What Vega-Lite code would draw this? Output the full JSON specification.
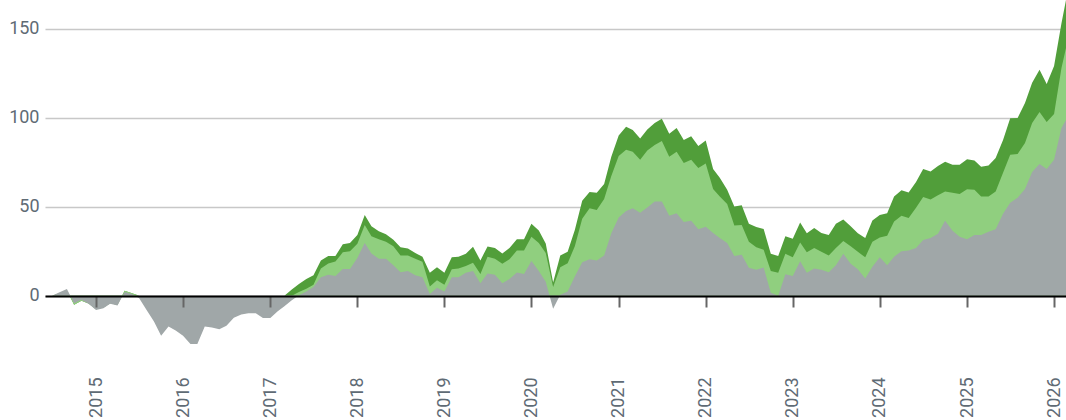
{
  "$schema": "https://vega.github.io/schema/vega-lite/v6.json",
  "autosize": "none",
  "width": 1021,
  "height": 360,
  "padding": {"left": 45, "top": 0, "right": 0, "bottom": 60},
  "background": "white",
  "config": {"view": {"stroke": null}},
  "data": {"values": [
    {"d":"2014-07-01","g":0,"l":0,"k":0},
    {"d":"2014-08-01","g":2,"l":1.5,"k":1.5},
    {"d":"2014-09-01","g":3.8,"l":3,"k":3},
    {"d":"2014-10-01","g":-4.1,"l":-5,"k":-5},
    {"d":"2014-11-01","g":-2.2,"l":-2.8,"k":-2.8},
    {"d":"2014-12-01","g":-4.5,"l":-4.3,"k":-4.3},
    {"d":"2015-01-01","g":-7.9,"l":-7.5,"k":-7.5},
    {"d":"2015-02-01","g":-6.9,"l":-6.5,"k":-6.5},
    {"d":"2015-03-01","g":-4.5,"l":-4.2,"k":-4.2},
    {"d":"2015-04-01","g":-5.4,"l":-5,"k":-5},
    {"d":"2015-05-01","g":2.2,"l":2.8,"k":2.8},
    {"d":"2015-06-01","g":1,"l":1.5,"k":1.5},
    {"d":"2015-07-01","g":-1.4,"l":0,"k":0},
    {"d":"2015-08-01","g":-7.9,"l":0,"k":0},
    {"d":"2015-09-01","g":-14.4,"l":0,"k":0},
    {"d":"2015-10-01","g":-22.4,"l":0,"k":0},
    {"d":"2015-11-01","g":-17.2,"l":0,"k":0},
    {"d":"2015-12-01","g":-19.5,"l":0,"k":0},
    {"d":"2016-01-01","g":-22.4,"l":0,"k":0},
    {"d":"2016-02-01","g":-27,"l":0,"k":0},
    {"d":"2016-03-01","g":-27,"l":0,"k":0},
    {"d":"2016-04-01","g":-17.2,"l":0,"k":0},
    {"d":"2016-05-01","g":-17.7,"l":0,"k":0},
    {"d":"2016-06-01","g":-18.8,"l":0,"k":0},
    {"d":"2016-07-01","g":-16.8,"l":0,"k":0},
    {"d":"2016-08-01","g":-12.3,"l":0,"k":0},
    {"d":"2016-09-01","g":-10.4,"l":0,"k":0},
    {"d":"2016-10-01","g":-9.7,"l":0,"k":0},
    {"d":"2016-11-01","g":-9.7,"l":0,"k":0},
    {"d":"2016-12-01","g":-12.5,"l":0,"k":0},
    {"d":"2017-01-01","g":-12.5,"l":0,"k":0},
    {"d":"2017-02-01","g":-8.7,"l":0,"k":0},
    {"d":"2017-03-01","g":-5.8,"l":0,"k":0},
    {"d":"2017-04-01","g":-2.5,"l":0,"k":3.6},
    {"d":"2017-05-01","g":0.3,"l":2.2,"k":6.7},
    {"d":"2017-06-01","g":2.5,"l":4,"k":9.5},
    {"d":"2017-07-01","g":5,"l":6.2,"k":11.5},
    {"d":"2017-08-01","g":10.4,"l":15.4,"k":19.9},
    {"d":"2017-09-01","g":11.8,"l":18.2,"k":22.4},
    {"d":"2017-10-01","g":11.2,"l":19.2,"k":22.4},
    {"d":"2017-11-01","g":15.1,"l":24.4,"k":29},
    {"d":"2017-12-01","g":15.1,"l":25,"k":29.7},
    {"d":"2018-01-01","g":21.3,"l":29.2,"k":34.2},
    {"d":"2018-02-01","g":29.6,"l":39.8,"k":45.4},
    {"d":"2018-03-01","g":23.8,"l":33.4,"k":39},
    {"d":"2018-04-01","g":20.8,"l":31.7,"k":36.2},
    {"d":"2018-05-01","g":20.8,"l":30.3,"k":34.5},
    {"d":"2018-06-01","g":17.1,"l":27.8,"k":31.5},
    {"d":"2018-07-01","g":13.2,"l":22.7,"k":27.3},
    {"d":"2018-08-01","g":14,"l":22.7,"k":26.6},
    {"d":"2018-09-01","g":11.5,"l":20.8,"k":24.1},
    {"d":"2018-10-01","g":10.5,"l":19.1,"k":21.9},
    {"d":"2018-11-01","g":1.1,"l":5.3,"k":12.9},
    {"d":"2018-12-01","g":4.5,"l":8.7,"k":16},
    {"d":"2019-01-01","g":2.4,"l":6.2,"k":12.9},
    {"d":"2019-02-01","g":10.5,"l":14.9,"k":21.6},
    {"d":"2019-03-01","g":10.5,"l":15.4,"k":21.9},
    {"d":"2019-04-01","g":12.9,"l":16.8,"k":23.6},
    {"d":"2019-05-01","g":14,"l":18.5,"k":27.5},
    {"d":"2019-06-01","g":7.1,"l":12.3,"k":19.9},
    {"d":"2019-07-01","g":12.5,"l":22,"k":27.7},
    {"d":"2019-08-01","g":11.8,"l":20.8,"k":26.9},
    {"d":"2019-09-01","g":7,"l":18,"k":23.8},
    {"d":"2019-10-01","g":9.5,"l":20.5,"k":26.9},
    {"d":"2019-11-01","g":13.1,"l":25.4,"k":31.8},
    {"d":"2019-12-01","g":12.3,"l":25.4,"k":31.8},
    {"d":"2020-01-01","g":19.6,"l":33.1,"k":40.4},
    {"d":"2020-02-01","g":14,"l":29.7,"k":36.7},
    {"d":"2020-03-01","g":7.9,"l":24.1,"k":29.4},
    {"d":"2020-04-01","g":-7.3,"l":5,"k":7.5},
    {"d":"2020-05-01","g":0.6,"l":16,"k":22.7},
    {"d":"2020-06-01","g":2.4,"l":18.3,"k":24.8},
    {"d":"2020-07-01","g":10.8,"l":27.8,"k":37},
    {"d":"2020-08-01","g":18.8,"l":43.2,"k":53.3},
    {"d":"2020-09-01","g":20.6,"l":49.1,"k":58.3},
    {"d":"2020-10-01","g":19.9,"l":48.2,"k":57.8},
    {"d":"2020-11-01","g":22.7,"l":54.4,"k":62.8},
    {"d":"2020-12-01","g":35.1,"l":67.3,"k":78},
    {"d":"2021-01-01","g":44,"l":78.5,"k":90},
    {"d":"2021-02-01","g":47.6,"l":82,"k":94.9},
    {"d":"2021-03-01","g":49.2,"l":80.8,"k":93.1},
    {"d":"2021-04-01","g":46.6,"l":76.3,"k":88.3},
    {"d":"2021-05-01","g":49.6,"l":81.6,"k":93.4},
    {"d":"2021-06-01","g":52.9,"l":84.7,"k":97},
    {"d":"2021-07-01","g":52.9,"l":86.9,"k":99.3},
    {"d":"2021-08-01","g":44.9,"l":78,"k":90.9},
    {"d":"2021-09-01","g":46.3,"l":80.8,"k":94.2},
    {"d":"2021-10-01","g":41.5,"l":74.6,"k":87.5},
    {"d":"2021-11-01","g":42.1,"l":76.3,"k":89.5},
    {"d":"2021-12-01","g":37.3,"l":71.8,"k":84.1},
    {"d":"2022-01-01","g":38.7,"l":74.3,"k":87.2},
    {"d":"2022-02-01","g":35.3,"l":60,"k":71.2},
    {"d":"2022-03-01","g":32.5,"l":55.8,"k":66.2},
    {"d":"2022-04-01","g":29.7,"l":51.6,"k":59.5},
    {"d":"2022-05-01","g":22.4,"l":39.5,"k":50.2},
    {"d":"2022-06-01","g":23,"l":39.8,"k":50.8},
    {"d":"2022-07-01","g":15.7,"l":30.3,"k":40.4},
    {"d":"2022-08-01","g":14.6,"l":27.2,"k":38.6},
    {"d":"2022-09-01","g":15.9,"l":25.8,"k":37.5},
    {"d":"2022-10-01","g":1.7,"l":14,"k":23.6},
    {"d":"2022-11-01","g":0,"l":12.9,"k":22.4},
    {"d":"2022-12-01","g":12.1,"l":23.6,"k":33.4},
    {"d":"2023-01-01","g":11.2,"l":21.6,"k":32},
    {"d":"2023-02-01","g":19.4,"l":30,"k":41.2},
    {"d":"2023-03-01","g":12.9,"l":24.4,"k":35.1},
    {"d":"2023-04-01","g":15.4,"l":26.9,"k":38.1},
    {"d":"2023-05-01","g":14.6,"l":24.7,"k":35.3},
    {"d":"2023-06-01","g":13.2,"l":22.7,"k":34.2},
    {"d":"2023-07-01","g":17.1,"l":26.9,"k":40.4},
    {"d":"2023-08-01","g":23.6,"l":30.8,"k":42.9},
    {"d":"2023-09-01","g":18,"l":27.8,"k":39},
    {"d":"2023-10-01","g":14.9,"l":24.7,"k":35.1},
    {"d":"2023-11-01","g":9.8,"l":21.6,"k":32.5},
    {"d":"2023-12-01","g":16.3,"l":30.3,"k":42.3},
    {"d":"2024-01-01","g":21.6,"l":32.8,"k":45.4},
    {"d":"2024-02-01","g":17.1,"l":33.7,"k":46.4},
    {"d":"2024-03-01","g":22,"l":41.7,"k":55.8},
    {"d":"2024-04-01","g":25,"l":45,"k":59.3},
    {"d":"2024-05-01","g":25.4,"l":43.7,"k":58},
    {"d":"2024-06-01","g":26.9,"l":49.4,"k":63.9},
    {"d":"2024-07-01","g":31.4,"l":55.5,"k":71.2},
    {"d":"2024-08-01","g":32.5,"l":54.1,"k":69.8},
    {"d":"2024-09-01","g":34.8,"l":56.4,"k":72.9},
    {"d":"2024-10-01","g":42.1,"l":58.6,"k":75.2},
    {"d":"2024-11-01","g":36.5,"l":57.8,"k":73.5},
    {"d":"2024-12-01","g":33.1,"l":57.2,"k":73.5},
    {"d":"2025-01-01","g":31.7,"l":59.8,"k":76.7},
    {"d":"2025-02-01","g":34.2,"l":59.5,"k":76},
    {"d":"2025-03-01","g":34.2,"l":55.7,"k":72.5},
    {"d":"2025-04-01","g":35.9,"l":55.8,"k":73.2},
    {"d":"2025-05-01","g":37.3,"l":58.6,"k":77.4},
    {"d":"2025-06-01","g":46,"l":69,"k":87.5},
    {"d":"2025-07-01","g":52.2,"l":79.1,"k":99.7},
    {"d":"2025-08-01","g":55,"l":79.6,"k":99.8},
    {"d":"2025-09-01","g":60,"l":85.8,"k":108.2},
    {"d":"2025-10-01","g":69.5,"l":97,"k":119.5},
    {"d":"2025-11-01","g":74,"l":103.2,"k":126.8},
    {"d":"2025-12-01","g":71.2,"l":97.6,"k":118.9},
    {"d":"2026-01-01","g":76.3,"l":102.1,"k":129},
    {"d":"2026-02-01","g":94.2,"l":127.9,"k":153},
    {"d":"2026-02-20","g":98.7,"l":139,"k":166}
  ]},
  "encoding": {
    "x": {
      "field": "d",
      "type": "temporal",
      "scale": {
        "type": "utc",
        "domain": [
          {"year": 2014, "month": 6, "date": 1, "utc": true},
          {"year": 2026, "month": 2, "date": 20, "utc": true}
        ],
        "nice": false
      },
      "axis": {
        "title": null,
        "format": "%Y",
        "tickCount": {"interval": "year", "step": 1},
        "labelAngle": -90,
        "labelPadding": 70,
        "labelFlush": false,
        "labelOverlap": false,
        "labelFont": "Roboto",
        "labelFontWeight": 400,
        "labelFontSize": 18,
        "labelColor": "#5f6b75",
        "tickSize": 11,
        "tickWidth": 2,
        "tickColor": "#666666",
        "domainColor": "#000000",
        "domainWidth": 2,
        "grid": false,
        "offset": -64,
        "zindex": 1
      }
    }
  },
  "layer": [
    {
      "mark": {"type": "area", "color": "#519e3a", "clip": true},
      "encoding": {
        "y": {
          "field": "k",
          "type": "quantitative",
          "scale": {"domain": [-36, 166], "nice": false},
          "axis": {
            "title": null,
            "values": [0, 50, 100, 150],
            "grid": true,
            "gridColor": "#c8c8c8",
            "gridWidth": 1.5,
            "domain": false,
            "ticks": false,
            "labelPadding": 6,
            "labelFont": "Roboto",
            "labelFontWeight": 400,
            "labelFontSize": 18,
            "labelColor": "#5f6b75"
          }
        }
      }
    },
    {
      "mark": {"type": "area", "color": "#90cf7f", "clip": true},
      "encoding": {"y": {"field": "l", "type": "quantitative", "title": null}}
    },
    {
      "mark": {"type": "area", "color": "#a0a7a8", "clip": true},
      "encoding": {"y": {"field": "g", "type": "quantitative", "title": null}}
    }
  ]
}
